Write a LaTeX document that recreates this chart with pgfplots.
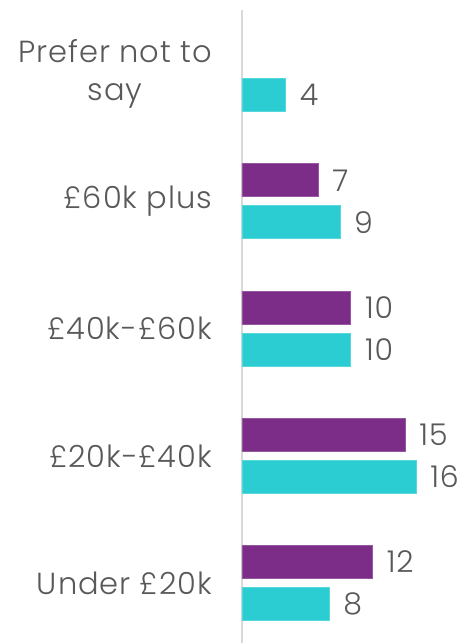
\documentclass[border=0pt]{standalone}
\usepackage{pgfplots}
\pgfplotsset{compat=1.18}
\usepackage{fontspec}
\setmainfont{Poppins}[UprightFont=* Light, LetterSpace=3]
\definecolor{barpurple}{RGB}{123,45,135}
\definecolor{barcyan}{RGB}{43,205,211}
\definecolor{txtgray}{RGB}{89,89,89}
\definecolor{axgray}{RGB}{217,217,217}
\begin{document}
\begin{tikzpicture}
\begin{axis}[
  name=ax,
  scale only axis,
  width=222pt, height=633pt,
  xmin=0, xmax=20.41,
  ymin=-0.471, ymax=4.503,
  axis x line=none,
  axis y line=left,
  y axis line style={-, draw=axgray, line width=1.5pt},
  ytick={0,1,2,3,4},
  yticklabels={Under £20k, £20k-£40k, £40k-£60k, £60k plus, {Prefer not to\\say}},
  major tick length=0pt,
  ytick style={draw=none},
  yticklabel style={align=center, inner sep=0pt, xshift=-30pt, text=txtgray, font=\fontsize{30.5}{38}\selectfont},
  xbar,
  bar width=33pt,
  clip=false,
  nodes near coords,
  point meta=x,
  /pgf/number format/assume math mode=true,
  every node near coord/.append style={anchor=west, inner sep=0pt, xshift=14pt, text=txtgray, font=\fontsize{30}{30}\selectfont},
]
\addplot[xbar, bar shift=21pt, fill=barpurple, draw=barpurple!80!white, line width=0.6pt] coordinates {(12,0) (15,1) (10,2) (7,3)};
\addplot[xbar, bar shift=-21pt, fill=barcyan, draw=barcyan!80!white, line width=0.6pt] coordinates {(8,0) (16,1) (10,2) (9,3) (4,4)};
\end{axis}
\pgfresetboundingbox
\path (ax.south west) ++(-242pt,0pt) rectangle ++(464pt,643pt);
\end{tikzpicture}
\end{document}
